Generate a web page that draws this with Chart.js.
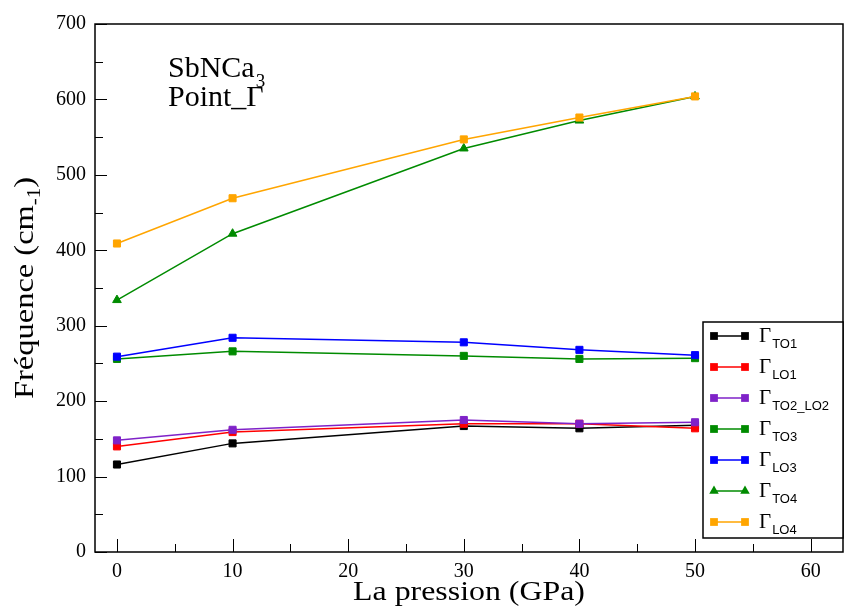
<!DOCTYPE html>
<html>
<head>
<meta charset="utf-8">
<script src="https://cdn.jsdelivr.net/npm/chart.js@4/dist/chart.umd.min.js"></script>
<style>
  html, body { margin: 0; padding: 0; background: #fff; }
  #wrap { width: 844px; height: 610px; }
</style>
</head>
<body>
<div id="wrap"><canvas id="grafik" width="844" height="610"></canvas></div>
<script>
// Data tekanan (GPa) dan frekuensi mode fonon (cm-1)
const pressure = [0, 10, 30, 40, 50];
const modeTO1 = [116, 144, 167, 164, 168];
const modeLO1 = [140, 159, 170, 170, 164];
const modeTO2LO2 = [148, 162, 175, 170, 172];
const modeTO3 = [256, 266, 260, 256, 257];
const modeLO3 = [259, 284, 278, 268, 261];
const modeTO4 = [334, 422, 535, 572, 604];
const modeLO4 = [409, 469, 547, 576, 604];

const modeNames = ['TO1', 'LO1', 'TO2_LO2', 'TO3', 'LO3', 'TO4', 'LO4'];
const modeColors = ['#000000', '#ff0000', '#7f22c8', '#008b00', '#0000ff', '#008b00', '#ffa500'];
const modeMarkers = ['rect', 'rect', 'rect', 'rect', 'rect', 'triangle', 'rect'];
const modeValues = [modeTO1, modeLO1, modeTO2LO2, modeTO3, modeLO3, modeTO4, modeLO4];

// Label sumbu
const xTicks = [0, 10, 20, 30, 40, 50, 60];
const yTicks = [0, 100, 200, 300, 400, 500, 600, 700];
const xMinor = [5, 15, 25, 35, 45, 55];
const yMinor = [50, 150, 250, 350, 450, 550, 650];

const serif = '"Liberation Serif", "Times New Roman", serif';
const sans = '"Liberation Sans", Arial, sans-serif';

// Fungsi untuk menggambar marker (kotak atau segitiga)
function drawMarker(ctx, style, x, y, r) {
    ctx.beginPath();
    if (style === 'triangle') {
        ctx.moveTo(x, y - r);
        ctx.lineTo(x + r * 0.866, y + r * 0.5);
        ctx.lineTo(x - r * 0.866, y + r * 0.5);
        ctx.closePath();
    } else {
        const s = r * Math.SQRT1_2;
        ctx.rect(x - s, y - s, 2 * s, 2 * s);
    }
    ctx.fill();
}

// Plugin untuk melebarkan area plot sampai tepi kanan kanvas
const areaPlugin = {
    id: 'areaKanan',
    afterLayout(chart) {
        const xs = chart.scales.x;
        const right = chart.width - 1;
        chart.chartArea.right = right;
        chart.chartArea.width = right - chart.chartArea.left;
        xs.right = right;
        xs.width = right - xs.left;
        xs.configure();
    }
};

// Plugin untuk bingkai, tick ke dalam, judul sumbu, teks dan legenda
const decorPlugin = {
    id: 'decor',
    afterDraw(chart) {
        const ctx = chart.ctx;
        const area = chart.chartArea;
        const xs = chart.scales.x;
        const ys = chart.scales.y;
        ctx.save();

        // Tick mayor dan minor menghadap ke dalam
        ctx.strokeStyle = '#000';
        ctx.lineWidth = 1;
        ctx.beginPath();
        xTicks.forEach(v => {
            const px = Math.round(xs.getPixelForValue(v)) + 0.5;
            ctx.moveTo(px, area.bottom); ctx.lineTo(px, area.bottom - 13);
        });
        xMinor.forEach(v => {
            const px = Math.round(xs.getPixelForValue(v)) + 0.5;
            ctx.moveTo(px, area.bottom); ctx.lineTo(px, area.bottom - 8);
        });
        yTicks.forEach(v => {
            const py = Math.round(ys.getPixelForValue(v)) + 0.5;
            ctx.moveTo(area.left, py); ctx.lineTo(area.left + 12, py);
        });
        yMinor.forEach(v => {
            const py = Math.round(ys.getPixelForValue(v)) + 0.5;
            ctx.moveTo(area.left, py); ctx.lineTo(area.left + 8, py);
        });
        ctx.stroke();

        // Bingkai plot
        ctx.lineWidth = 1.5;
        ctx.strokeRect(area.left, area.top, area.right - area.left, area.bottom - area.top);

        ctx.fillStyle = '#000';
        ctx.textBaseline = 'alphabetic';

        // Label tick sumbu X
        ctx.font = '20px ' + serif;
        ctx.textAlign = 'center';
        xTicks.forEach(v => {
            ctx.fillText(String(v), xs.getPixelForValue(v), 577);
        });
        ctx.textAlign = 'left';

        // Judul sumbu X
        ctx.save();
        ctx.font = '27px ' + serif;
        const xTitle = 'La pression (GPa)';
        const xw = ctx.measureText(xTitle).width * 1.18;
        ctx.translate(469 - xw / 2, 600);
        ctx.scale(1.18, 1);
        ctx.fillText(xTitle, 0, 0);
        ctx.restore();

        // Judul sumbu Y (diputar, dengan subskrip)
        ctx.save();
        ctx.translate(33, 288);
        ctx.rotate(-Math.PI / 2);
        const stretch = 1.16;
        ctx.font = '28px ' + serif;
        const partA = 'Fréquence (cm';
        const wA = ctx.measureText(partA).width;
        ctx.font = '18px ' + serif;
        const wB = ctx.measureText('-1').width;
        ctx.font = '28px ' + serif;
        const wC = ctx.measureText(')').width;
        const total = (wA + wB + wC) * stretch;
        ctx.scale(stretch, 1);
        let pos = -total / 2 / stretch;
        ctx.fillText(partA, pos, 0);
        pos += wA;
        ctx.font = '18px ' + serif;
        ctx.fillText('-1', pos, 7);
        pos += wB;
        ctx.font = '28px ' + serif;
        ctx.fillText(')', pos, 0);
        ctx.restore();

        // Teks keterangan material
        ctx.font = '30px ' + serif;
        ctx.fillText('SbNCa', 168, 77);
        const wS = ctx.measureText('SbNCa').width;
        ctx.font = '19px ' + serif;
        ctx.fillText('3', 168 + wS + 1, 87);
        ctx.font = '30px ' + serif;
        ctx.fillText('Point_Γ', 168, 106);

        // Legenda
        const lx = 703, ly = 322, lw = 140, lh = 216;
        ctx.fillStyle = '#fff';
        ctx.fillRect(lx, ly, lw, lh);
        ctx.lineWidth = 1.5;
        ctx.strokeStyle = '#000';
        ctx.strokeRect(lx, ly, lw, lh);
        modeNames.forEach((name, i) => {
            const cy = 336 + i * 31;
            ctx.strokeStyle = modeColors[i];
            ctx.fillStyle = modeColors[i];
            ctx.lineWidth = 1.5;
            ctx.beginPath();
            ctx.moveTo(714, cy); ctx.lineTo(745, cy);
            ctx.stroke();
            drawMarker(ctx, modeMarkers[i], 714, cy, 5.5);
            drawMarker(ctx, modeMarkers[i], 745, cy, 5.5);
            ctx.fillStyle = '#000';
            ctx.font = '21px ' + serif;
            ctx.fillText('Γ', 759, cy + 6);
            const wG = ctx.measureText('Γ').width;
            ctx.font = '13px ' + sans;
            ctx.fillText(name, 759 + wG + 1, cy + 12);
        });

        ctx.restore();
    }
};

const datasets = modeNames.map((name, i) => ({
    label: name,
    data: pressure.map((p, j) => ({ x: p, y: modeValues[i][j] })),
    borderColor: modeColors[i],
    backgroundColor: modeColors[i],
    pointBackgroundColor: modeColors[i],
    pointBorderColor: modeColors[i],
    pointStyle: modeMarkers[i],
    pointRadius: 5,
    pointBorderWidth: 1,
    borderWidth: 1.5,
    showLine: true,
    fill: false,
    tension: 0,
    order: modeNames.length - i
}));

const ctx = document.getElementById('grafik').getContext('2d');
new Chart(ctx, {
    type: 'scatter',
    data: { datasets: datasets },
    options: {
        responsive: false,
        animation: false,
        layout: { padding: { top: 24, right: 1, left: 0, bottom: 0 } },
        plugins: {
            legend: { display: false },
            tooltip: { enabled: false }
        },
        scales: {
            x: {
                type: 'linear',
                min: -1.9,
                max: 62.8,
                grid: { display: false, drawTicks: false },
                border: { display: false },
                // label tick X digambar sendiri di plugin
                ticks: { display: false },
                afterBuildTicks: scale => { scale.ticks = xTicks.map(v => ({ value: v })); },
                afterFit: scale => { scale.height = 58; }
            },
            y: {
                type: 'linear',
                min: 0,
                max: 700,
                grid: { display: false, drawTicks: false },
                border: { display: false },
                ticks: { color: '#000', padding: 9, font: { family: serif, size: 20 } },
                afterBuildTicks: scale => { scale.ticks = yTicks.map(v => ({ value: v })); },
                afterFit: scale => { scale.width = 95; }
            }
        }
    },
    plugins: [areaPlugin, decorPlugin]
});
</script>
</body>
</html>
